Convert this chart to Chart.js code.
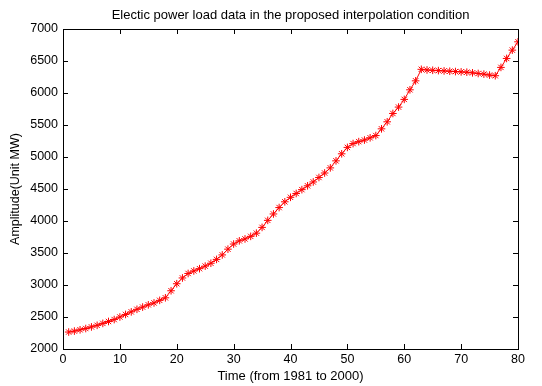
<!DOCTYPE html>
<html>
<head>
<meta charset="utf-8">
<script src="https://cdn.jsdelivr.net/npm/chart.js@4/dist/chart.umd.min.js"></script>
<style>
  html, body { margin: 0; padding: 0; background: #fff; }
  #wrap { width: 542px; height: 386px; position: relative; }
</style>
</head>
<body>
<div id="wrap"><canvas id="c"></canvas></div>
<script>
  // time index (quarters, 1981..2000)
  var TIME = [1, 2, 3, 4, 5, 6, 7, 8, 9, 10, 11, 12, 13, 14, 15, 16, 17, 18, 19, 20,
    21, 22, 23, 24, 25, 26, 27, 28, 29, 30, 31, 32, 33, 34, 35, 36, 37, 38, 39, 40,
    41, 42, 43, 44, 45, 46, 47, 48, 49, 50, 51, 52, 53, 54, 55, 56, 57, 58, 59, 60,
    61, 62, 63, 64, 65, 66, 67, 68, 69, 70, 71, 72, 73, 74, 75, 76, 77, 78, 79, 80];

  // load, unit MW
  var LOAD = [2265, 2280, 2300, 2320, 2345, 2370, 2400, 2430, 2460, 2500,
    2540, 2580, 2620, 2655, 2690, 2720, 2760, 2800, 2910, 3020,
    3110, 3180, 3220, 3255, 3295, 3340, 3400, 3470, 3560, 3640,
    3690, 3720, 3760, 3810, 3900, 4010, 4110, 4210, 4300, 4370,
    4430, 4490, 4550, 4610, 4680, 4750, 4830, 4940, 5050, 5150,
    5210, 5240, 5265, 5300, 5335, 5440, 5550, 5680, 5780, 5900,
    6050, 6190, 6370, 6360, 6355, 6350, 6345, 6340, 6335, 6330,
    6325, 6315, 6305, 6295, 6280, 6270, 6400, 6540, 6670, 6800];

  var X_TICKS = [0, 10, 20, 30, 40, 50, 60, 70, 80];
  var Y_TICKS = [2000, 2500, 3000, 3500, 4000, 4500, 5000, 5500, 6000, 6500, 7000];

  var TITLE = "Electic power load data in the proposed interpolation condition";
  var FONT = "'Liberation Sans', Arial, Helvetica, sans-serif";

  // matlab-like box with inward ticks on all four sides, title centred over the axes
  var boxPlugin = {
    id: "box",
    afterDraw: function (chart) {
      var ctx = chart.ctx, a = chart.chartArea;
      var xs = chart.scales.x, ys = chart.scales.y, L = 5;
      ctx.save();
      ctx.strokeStyle = "#000";
      ctx.lineWidth = 1;
      ctx.strokeRect(Math.round(a.left) + 0.5, Math.round(a.top) + 0.5,
        Math.round(a.right - a.left), Math.round(a.bottom - a.top));
      ctx.beginPath();
      X_TICKS.forEach(function (v) {
        var px = Math.round(xs.getPixelForValue(v)) + 0.5;
        ctx.moveTo(px, a.bottom); ctx.lineTo(px, a.bottom - L);
        ctx.moveTo(px, a.top); ctx.lineTo(px, a.top + L);
      });
      Y_TICKS.forEach(function (v) {
        var py = Math.round(ys.getPixelForValue(v)) + 0.5;
        ctx.moveTo(a.left, py); ctx.lineTo(a.left + L, py);
        ctx.moveTo(a.right, py); ctx.lineTo(a.right - L, py);
      });
      ctx.stroke();

      ctx.fillStyle = "#000";
      ctx.font = "13px " + FONT;
      ctx.textAlign = "center";
      ctx.textBaseline = "middle";
      ctx.fillText(TITLE, (a.left + a.right) / 2, 15);
      ctx.restore();
    }
  };

  function plain(v) { return String(v); }

  new Chart(document.getElementById("c"), {
    type: "line",
    data: {
      datasets: [{
        data: TIME.map(function (t, i) { return { x: t, y: LOAD[i] }; }),
        borderColor: "#ff0000",
        borderWidth: 1,
        pointStyle: "star",
        pointRadius: 3.8,
        pointBorderColor: "#ff0000",
        pointBorderWidth: 1,
        pointBackgroundColor: "#ff0000",
        fill: false,
        tension: 0
      }]
    },
    options: {
      responsive: true,
      maintainAspectRatio: false,
      animation: false,
      layout: { padding: { right: 24, left: 0, top: 29, bottom: 0 } },
      plugins: {
        legend: { display: false },
        tooltip: { enabled: false },
        title: { display: false }
      },
      scales: {
        x: {
          type: "linear", min: 0, max: 80,
          afterBuildTicks: function (s) { s.ticks = X_TICKS.map(function (v) { return { value: v }; }); },
          afterFit: function (s) { s.height = 37; },
          grid: { display: false, drawTicks: false },
          border: { display: false },
          ticks: { color: "#000", font: { family: FONT, size: 12.5 }, padding: 3, maxRotation: 0, callback: plain },
          title: {
            display: true, text: "Time (from 1981 to 2000)", color: "#000",
            font: { family: FONT, size: 13 }, padding: { top: 0, bottom: 2 }
          }
        },
        y: {
          type: "linear", min: 2000, max: 7000,
          afterBuildTicks: function (s) { s.ticks = Y_TICKS.map(function (v) { return { value: v }; }); },
          afterFit: function (s) { s.width = 63; },
          grid: { display: false, drawTicks: false },
          border: { display: false },
          ticks: { color: "#000", font: { family: FONT, size: 12.5 }, padding: 5, callback: plain },
          title: {
            display: true, text: "Amplitude(Unit MW)", color: "#000",
            font: { family: FONT, size: 12.5 }, padding: { top: 8, bottom: 0 }
          }
        }
      }
    },
    plugins: [boxPlugin]
  });
</script>
</body>
</html>
